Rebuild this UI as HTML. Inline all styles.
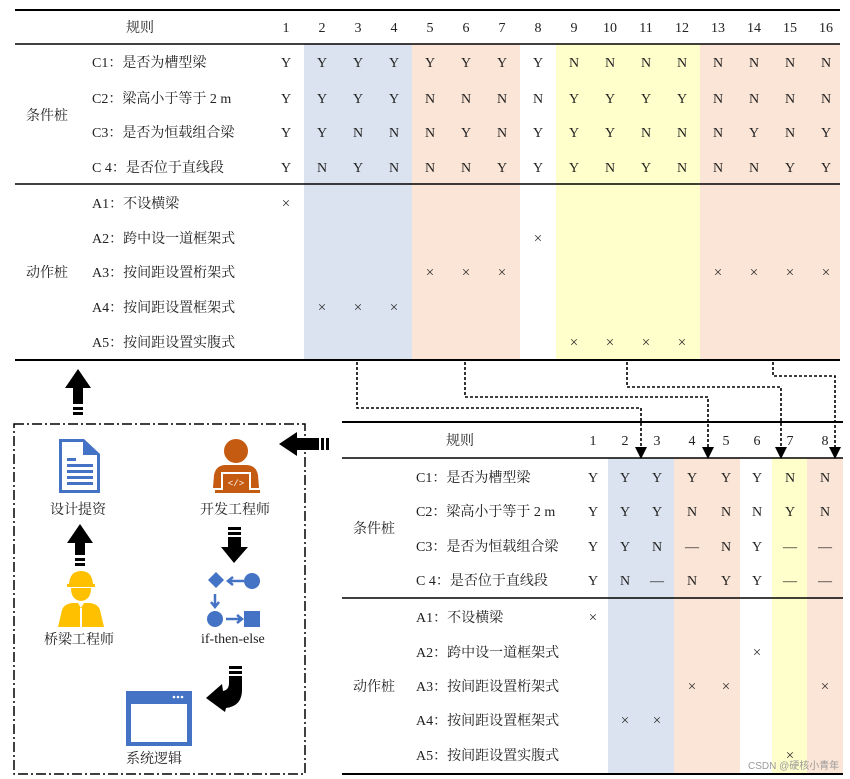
<!DOCTYPE html>
<html><head><meta charset="utf-8"><style>
html,body{margin:0;padding:0;background:#fff}
svg{display:block}
text{font-family:"Liberation Serif","Noto Serif CJK SC",serif;font-size:14px;fill:#222}
.c{text-anchor:middle}
.x{font-size:15px;fill:#333}
</style></head><body>
<svg width="850" height="779" viewBox="0 0 850 779" xmlns="http://www.w3.org/2000/svg">
<!-- TOP TABLE bands -->
<rect x="304" y="44" width="108" height="316" fill="#dae3ef"/>
<rect x="412" y="44" width="108" height="316" fill="#fbe5d6"/>
<rect x="556" y="44" width="144" height="316" fill="#ffffcc"/>
<rect x="700" y="44" width="140" height="316" fill="#fbe5d6"/>
<line x1="15" y1="10" x2="840" y2="10" stroke="#000" stroke-width="2"/>
<line x1="15" y1="44" x2="840" y2="44" stroke="#000" stroke-width="1.5"/>
<line x1="15" y1="184" x2="840" y2="184" stroke="#000" stroke-width="1.5"/>
<line x1="15" y1="360" x2="840" y2="360" stroke="#000" stroke-width="2"/>
<text x="126" y="32">规则</text>
<text class="c" x="286" y="32">1</text><text class="c" x="322" y="32">2</text><text class="c" x="358" y="32">3</text><text class="c" x="394" y="32">4</text><text class="c" x="430" y="32">5</text><text class="c" x="466" y="32">6</text><text class="c" x="502" y="32">7</text><text class="c" x="538" y="32">8</text><text class="c" x="574" y="32">9</text><text class="c" x="610" y="32">10</text><text class="c" x="646" y="32">11</text><text class="c" x="682" y="32">12</text><text class="c" x="718" y="32">13</text><text class="c" x="754" y="32">14</text><text class="c" x="790" y="32">15</text><text class="c" x="826" y="32">16</text>
<text x="26" y="120">条件桩</text>
<text x="92" y="67">C1：是否为槽型梁</text>
<text x="92" y="103">C2：梁高小于等于 2 m</text>
<text x="92" y="137">C3：是否为恒载组合梁</text>
<text x="92" y="172">C 4：是否位于直线段</text>
<text x="26" y="277">动作桩</text>
<text x="92" y="208">A1：不设横梁</text>
<text x="92" y="243">A2：跨中设一道框架式</text>
<text x="92" y="277">A3：按间距设置桁架式</text>
<text x="92" y="312">A4：按间距设置框架式</text>
<text x="92" y="347">A5：按间距设置实腹式</text>
<text class="c" x="286" y="67">Y</text><text class="c" x="322" y="67">Y</text><text class="c" x="358" y="67">Y</text><text class="c" x="394" y="67">Y</text><text class="c" x="430" y="67">Y</text><text class="c" x="466" y="67">Y</text><text class="c" x="502" y="67">Y</text><text class="c" x="538" y="67">Y</text><text class="c" x="574" y="67">N</text><text class="c" x="610" y="67">N</text><text class="c" x="646" y="67">N</text><text class="c" x="682" y="67">N</text><text class="c" x="718" y="67">N</text><text class="c" x="754" y="67">N</text><text class="c" x="790" y="67">N</text><text class="c" x="826" y="67">N</text>
<text class="c" x="286" y="103">Y</text><text class="c" x="322" y="103">Y</text><text class="c" x="358" y="103">Y</text><text class="c" x="394" y="103">Y</text><text class="c" x="430" y="103">N</text><text class="c" x="466" y="103">N</text><text class="c" x="502" y="103">N</text><text class="c" x="538" y="103">N</text><text class="c" x="574" y="103">Y</text><text class="c" x="610" y="103">Y</text><text class="c" x="646" y="103">Y</text><text class="c" x="682" y="103">Y</text><text class="c" x="718" y="103">N</text><text class="c" x="754" y="103">N</text><text class="c" x="790" y="103">N</text><text class="c" x="826" y="103">N</text>
<text class="c" x="286" y="137">Y</text><text class="c" x="322" y="137">Y</text><text class="c" x="358" y="137">N</text><text class="c" x="394" y="137">N</text><text class="c" x="430" y="137">N</text><text class="c" x="466" y="137">Y</text><text class="c" x="502" y="137">N</text><text class="c" x="538" y="137">Y</text><text class="c" x="574" y="137">Y</text><text class="c" x="610" y="137">Y</text><text class="c" x="646" y="137">N</text><text class="c" x="682" y="137">N</text><text class="c" x="718" y="137">N</text><text class="c" x="754" y="137">Y</text><text class="c" x="790" y="137">N</text><text class="c" x="826" y="137">Y</text>
<text class="c" x="286" y="172">Y</text><text class="c" x="322" y="172">N</text><text class="c" x="358" y="172">Y</text><text class="c" x="394" y="172">N</text><text class="c" x="430" y="172">N</text><text class="c" x="466" y="172">N</text><text class="c" x="502" y="172">Y</text><text class="c" x="538" y="172">Y</text><text class="c" x="574" y="172">Y</text><text class="c" x="610" y="172">N</text><text class="c" x="646" y="172">Y</text><text class="c" x="682" y="172">N</text><text class="c" x="718" y="172">N</text><text class="c" x="754" y="172">N</text><text class="c" x="790" y="172">Y</text><text class="c" x="826" y="172">Y</text>
<text class="c x" x="286" y="208">×</text>
<text class="c x" x="538" y="243">×</text>
<text class="c x" x="430" y="277">×</text><text class="c x" x="466" y="277">×</text><text class="c x" x="502" y="277">×</text><text class="c x" x="718" y="277">×</text><text class="c x" x="754" y="277">×</text><text class="c x" x="790" y="277">×</text><text class="c x" x="826" y="277">×</text>
<text class="c x" x="322" y="312">×</text><text class="c x" x="358" y="312">×</text><text class="c x" x="394" y="312">×</text>
<text class="c x" x="574" y="347">×</text><text class="c x" x="610" y="347">×</text><text class="c x" x="646" y="347">×</text><text class="c x" x="682" y="347">×</text>

<!-- BOTTOM TABLE bands -->
<rect x="608" y="458" width="66" height="316" fill="#dae3ef"/>
<rect x="674" y="458" width="66" height="316" fill="#fbe5d6"/>
<rect x="772" y="458" width="35" height="316" fill="#ffffcc"/>
<rect x="807" y="458" width="36" height="316" fill="#fbe5d6"/>
<line x1="342" y1="422" x2="843" y2="422" stroke="#000" stroke-width="2"/>
<line x1="342" y1="458" x2="843" y2="458" stroke="#000" stroke-width="1.5"/>
<line x1="342" y1="598" x2="843" y2="598" stroke="#000" stroke-width="1.5"/>
<line x1="342" y1="774" x2="843" y2="774" stroke="#000" stroke-width="2"/>
<text x="446" y="445">规则</text>
<text class="c" x="593" y="445">1</text><text class="c" x="625" y="445">2</text><text class="c" x="657" y="445">3</text><text class="c" x="692" y="445">4</text><text class="c" x="726" y="445">5</text><text class="c" x="757" y="445">6</text><text class="c" x="790" y="445">7</text><text class="c" x="825" y="445">8</text>
<text x="353" y="533">条件桩</text>
<text x="416" y="482">C1：是否为槽型梁</text>
<text x="416" y="516">C2：梁高小于等于 2 m</text>
<text x="416" y="551">C3：是否为恒载组合梁</text>
<text x="416" y="585">C 4：是否位于直线段</text>
<text x="353" y="691">动作桩</text>
<text x="416" y="622">A1：不设横梁</text>
<text x="416" y="657">A2：跨中设一道框架式</text>
<text x="416" y="691">A3：按间距设置桁架式</text>
<text x="416" y="725">A4：按间距设置框架式</text>
<text x="416" y="760">A5：按间距设置实腹式</text>
<text class="c" x="593" y="482">Y</text><text class="c" x="625" y="482">Y</text><text class="c" x="657" y="482">Y</text><text class="c" x="692" y="482">Y</text><text class="c" x="726" y="482">Y</text><text class="c" x="757" y="482">Y</text><text class="c" x="790" y="482">N</text><text class="c" x="825" y="482">N</text>
<text class="c" x="593" y="516">Y</text><text class="c" x="625" y="516">Y</text><text class="c" x="657" y="516">Y</text><text class="c" x="692" y="516">N</text><text class="c" x="726" y="516">N</text><text class="c" x="757" y="516">N</text><text class="c" x="790" y="516">Y</text><text class="c" x="825" y="516">N</text>
<text class="c" x="593" y="551">Y</text><text class="c" x="625" y="551">Y</text><text class="c" x="657" y="551">N</text><text class="c" x="692" y="551">—</text><text class="c" x="726" y="551">N</text><text class="c" x="757" y="551">Y</text><text class="c" x="790" y="551">—</text><text class="c" x="825" y="551">—</text>
<text class="c" x="593" y="585">Y</text><text class="c" x="625" y="585">N</text><text class="c" x="657" y="585">—</text><text class="c" x="692" y="585">N</text><text class="c" x="726" y="585">Y</text><text class="c" x="757" y="585">Y</text><text class="c" x="790" y="585">—</text><text class="c" x="825" y="585">—</text>
<text class="c x" x="593" y="622">×</text>
<text class="c x" x="757" y="657">×</text>
<text class="c x" x="692" y="691">×</text><text class="c x" x="726" y="691">×</text><text class="c x" x="825" y="691">×</text>
<text class="c x" x="625" y="725">×</text><text class="c x" x="657" y="725">×</text>
<text class="c x" x="790" y="760">×</text>
<text x="748" y="769" style="font-family:'Liberation Sans','Noto Sans CJK SC',sans-serif;font-size:10px;fill:#999">CSDN @硬核小青年</text>

<!-- dotted connectors -->
<g fill="none" stroke="#000" stroke-width="1.6" stroke-dasharray="3,2">
<path d="M357,362 V408 H641 V448"/>
<path d="M465,362 V397 H708 V448"/>
<path d="M627,362 V387 H781 V448"/>
<path d="M773,362 V376 H835 V448"/>
</g>
<g fill="#000">
<path d="M635,447 L647,447 L641,459 Z"/>
<path d="M702,447 L714,447 L708,459 Z"/>
<path d="M775,447 L787,447 L781,459 Z"/>
<path d="M829,447 L841,447 L835,459 Z"/>
</g>

<!-- left dash-dot box -->
<rect x="14" y="424" width="291" height="350" fill="none" stroke="#000" stroke-width="1.5" stroke-dasharray="10,3,2,3"/>

<path d="M78,369 L91,388 L83,388 L83,404 L73,404 L73,388 L65,388 Z" fill="#000"/>
<rect x="73" y="407" width="10" height="3" fill="#000"/><rect x="73" y="412" width="10" height="3" fill="#000"/>
<path d="M279,444 L297,432 L297,438 L319,438 L319,450 L297,450 L297,456 Z" fill="#000"/>
<rect x="321" y="438" width="3" height="12" fill="#000"/><rect x="326" y="438" width="3" height="12" fill="#000"/>

<path d="M59,439 L84,439 L100,454 L100,493 L59,493 Z" fill="#4472c4"/>
<path d="M62,442 L83,442 L83,455 L97,455 L97,490 L62,490 Z" fill="#fff"/>
<path d="M85,441 L98,453 L85,453 Z" fill="#4472c4"/>
<rect x="67" y="458" width="9" height="3" fill="#4472c4"/>
<rect x="67" y="464" width="26" height="3" fill="#4472c4"/><rect x="67" y="470" width="26" height="3" fill="#4472c4"/><rect x="67" y="476" width="26" height="3" fill="#4472c4"/><rect x="67" y="482" width="26" height="3" fill="#4472c4"/>
<text x="50" y="514">设计提资</text>
<path d="M80,524 L93,543 L85,543 L85,555 L75,555 L75,543 L67,543 Z" fill="#000"/>
<rect x="75" y="558" width="10" height="3" fill="#000"/><rect x="75" y="563" width="10" height="3" fill="#000"/>
<path d="M69,584 Q70,571 81,571 Q92,571 93,584 Z" fill="#ffc000"/>
<rect x="67" y="584" width="28" height="3" fill="#ffc000"/>
<path d="M71,588 L91,588 Q91,600 81,601 Q71,600 71,588 Z" fill="#ffc000"/>
<path d="M58,627 L62,610 Q64,604 72,603 L78,603 L81,608 L84,603 L90,603 Q98,604 100,610 L104,627 Z" fill="#ffc000"/>
<rect x="80" y="608" width="2" height="19" fill="#fff"/>
<text x="44" y="644">桥梁工程师</text>

<circle cx="236" cy="451" r="12" fill="#c55a11"/>
<path d="M213,488 L214,475 Q216,465 226,465 L246,465 Q256,465 258,475 L259,488 Z" fill="#c55a11"/>
<rect x="221" y="472" width="30" height="18" fill="#fff"/>
<rect x="223" y="474" width="26" height="16" fill="#c55a11"/>
<text x="236" y="486" class="c" style="font-size:9px;fill:#fff;font-family:'Liberation Mono',monospace">&lt;/&gt;</text>
<rect x="215" y="490" width="45" height="3" fill="#c55a11"/>
<text x="200" y="514">开发工程师</text>
<rect x="228" y="527" width="13" height="3" fill="#000"/><rect x="228" y="532" width="13" height="3" fill="#000"/>
<path d="M228,537 L241,537 L241,547 L248,547 L234,563 L221,547 L228,547 Z" fill="#000"/>
<path d="M216,572 L224,580 L216,588 L208,580 Z" fill="#4472c4"/>
<circle cx="252" cy="581" r="8" fill="#4472c4"/>
<path d="M244,581 L229,581 M233,577 L228,581 L233,585" stroke="#4472c4" stroke-width="2.5" fill="none"/>
<path d="M215,594 L215,606 M211,602 L215,607 L219,602" stroke="#4472c4" stroke-width="2.5" fill="none"/>
<circle cx="215" cy="619" r="8" fill="#4472c4"/>
<path d="M226,619 L241,619 M237,615 L242,619 L237,623" stroke="#4472c4" stroke-width="2.5" fill="none"/>
<rect x="244" y="611" width="16" height="16" fill="#4472c4"/>
<text x="201" y="643">if-then-else</text>
<rect x="229" y="666" width="13" height="3" fill="#000"/><rect x="229" y="671" width="13" height="3" fill="#000"/>
<path d="M229,676 L242,676 L242,690 Q242,706 226,708 L225,712 L206,698 L222,684 L223,691 Q229,690 229,683 Z" fill="#000"/>
<rect x="126" y="691" width="66" height="55" fill="#4472c4"/>
<rect x="131" y="704" width="56" height="38" fill="#fff"/>
<circle cx="174" cy="697" r="1.3" fill="#fff"/><circle cx="178" cy="697" r="1.3" fill="#fff"/><circle cx="182" cy="697" r="1.3" fill="#fff"/>
<text x="126" y="763">系统逻辑</text>
</svg>
</body></html>
